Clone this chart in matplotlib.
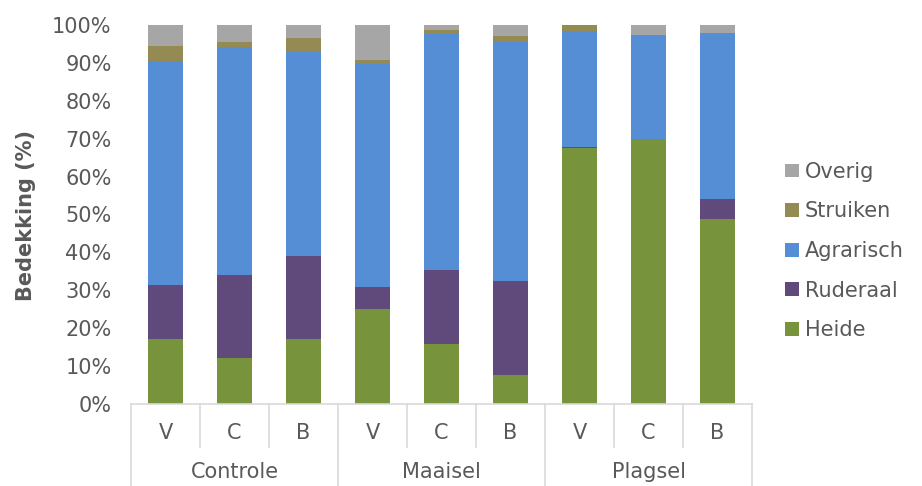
import matplotlib
matplotlib.use("Agg")
import matplotlib.pyplot as plt
from matplotlib.patches import Patch
from matplotlib.transforms import blended_transform_factory
import numpy as np

groups = ["Controle", "Maaisel", "Plagsel"]
subcats = ["V", "C", "B"]
series_names = ["Heide", "Ruderaal", "Agrarisch", "Struiken", "Overig"]
heide = [17.1, 12.2, 17.2, 25.0, 15.7, 7.7, 67.5, 69.8, 48.7]
ruderaal = [14.2, 21.8, 21.9, 5.9, 19.7, 24.8, 0.4, 0.0, 5.5]
agrarisch = [59.3, 60.3, 54.0, 58.7, 62.3, 63.1, 30.4, 27.5, 43.6]
struiken = [3.9, 1.3, 3.5, 1.1, 1.0, 1.6, 1.7, 0.0, 0.0]
overig = [5.5, 4.4, 3.4, 9.3, 1.3, 2.8, 0.0, 2.7, 2.2]
colors = ["#77933C", "#604A7B", "#558ED5", "#948A54", "#A6A6A6"]

TXT = "#595959"
LINE = "#D9D9D9"

fig = plt.figure(figsize=(9.22, 4.86), dpi=100)
ax = fig.add_axes([131/922, 1-404/486, 621/922, 379/486])

data = [heide, ruderaal, agrarisch, struiken, overig]
n = len(heide)
x = np.arange(n)
bottom = np.zeros(n)
handles = []
for name, vals, c in zip(series_names, data, colors):
    v = np.array(vals) / 100.0
    ax.bar(x, v, width=0.5, bottom=bottom, color=c, edgecolor="none", zorder=2)
    bottom += v
    handles.append(Patch(facecolor=c, edgecolor="none", label=name))

ax.set_xlim(-0.5, n - 0.5)
ax.set_ylim(0, 1.0)
ax.set_yticks(np.arange(0, 1.01, 0.1))
ax.set_yticklabels([f"{int(round(t*100))}%" for t in np.arange(0, 1.01, 0.1)])
ax.tick_params(axis="y", length=0, pad=14, labelsize=15, labelcolor=TXT)
ax.tick_params(axis="x", length=0, labelbottom=False)
for s in ["top", "right", "left"]:
    ax.spines[s].set_visible(False)
ax.spines["bottom"].set_color(LINE)
ax.spines["bottom"].set_linewidth(1.2)

tr = blended_transform_factory(ax.transData, ax.transAxes)
sub_bottom = -43/379
grp_bottom = -90/379
for i in range(n):
    ax.text(i, -29/379, subcats[i % 3], transform=tr, ha="center", va="center",
            fontsize=15, color=TXT)
for i in range(n + 1):
    xb = i - 0.5
    if i % 3 == 0:
        ax.plot([xb, xb], [0, grp_bottom], transform=tr, color=LINE, lw=1.2, clip_on=False)
    else:
        ax.plot([xb, xb], [0, sub_bottom], transform=tr, color=LINE, lw=1.2, clip_on=False)
for g, name in enumerate(groups):
    ax.text(3*g + 1, -68/379, name, transform=tr, ha="center", va="center",
            fontsize=15, color=TXT)

fig.text(26/922, 1-215/486, "Bedekking (%)", rotation=90, ha="center", va="center",
         fontsize=15, fontweight="bold", color=TXT)

leg = fig.legend(handles=handles[::-1], loc="center left",
                 bbox_to_anchor=(785/922, 1-251/486), frameon=False,
                 fontsize=15, labelcolor=TXT, handlelength=0.65, handleheight=0.65,
                 handletextpad=0.3, labelspacing=0.94, borderpad=0, borderaxespad=0)

fig.savefig("out.png", dpi=100)
